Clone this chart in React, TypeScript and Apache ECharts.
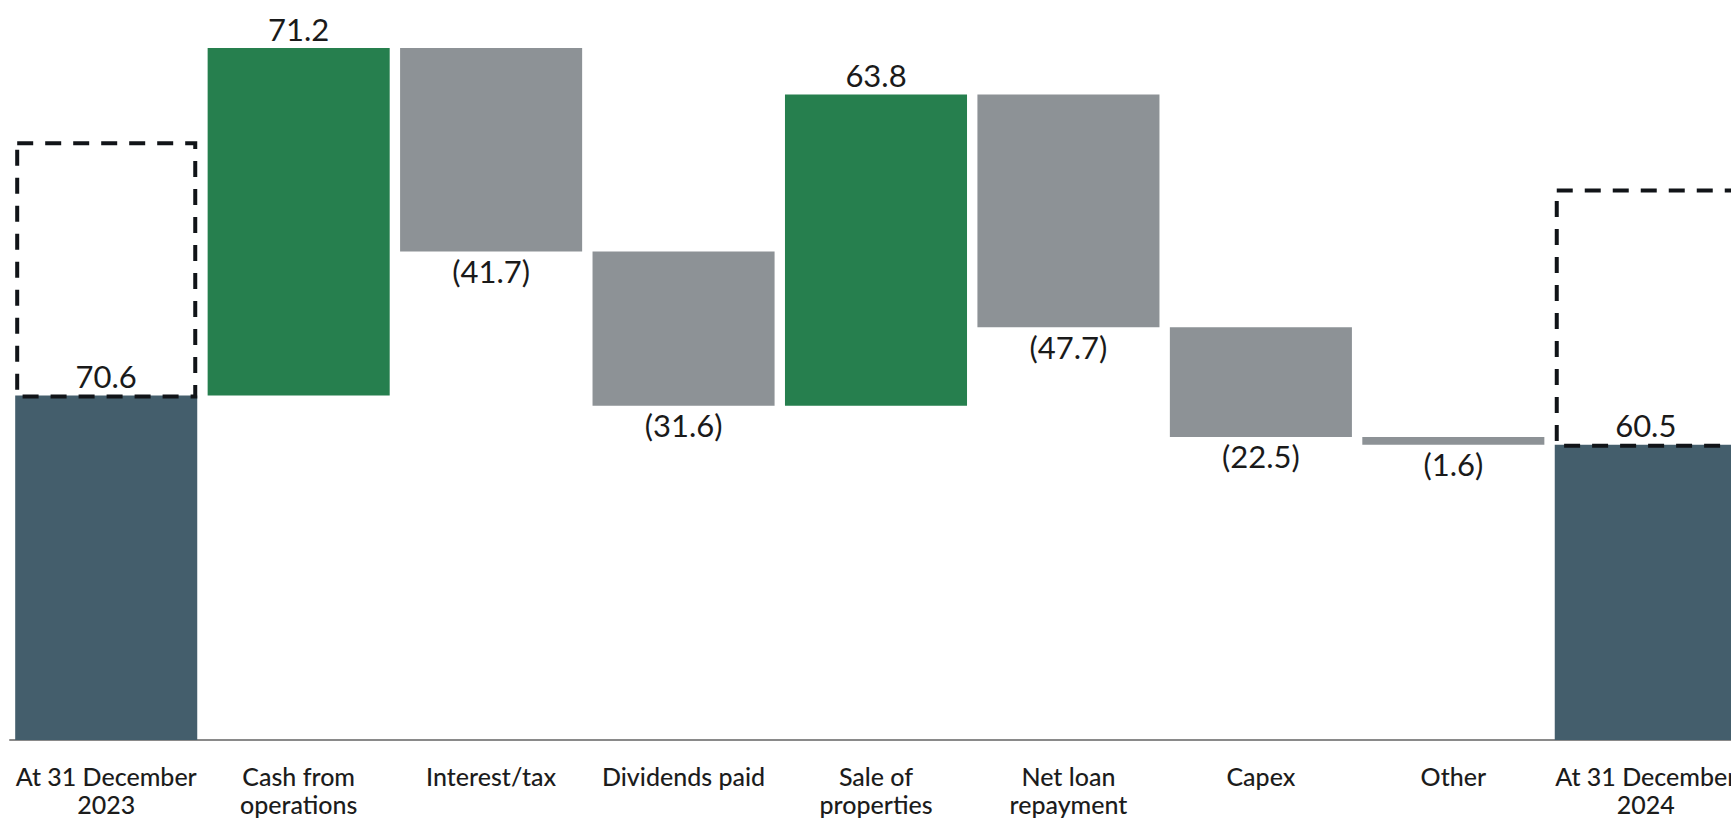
import React, { useEffect, useRef } from 'react';
import * as echarts from 'echarts';

const categories = [
  'At 31 December\n2023',
  'Cash from\noperations',
  'Interest/tax',
  'Dividends paid',
  'Sale of\nproperties',
  'Net loan\nrepayment',
  'Capex',
  'Other',
  'At 31 December\n2024',
];
const kinds = ['total', 'up', 'down', 'down', 'up', 'down', 'down', 'down', 'total'];
const amounts = [70.6, 71.2, 41.7, 31.6, 63.8, 47.7, 22.5, 1.6, 60.5];
// dashed outline boxes above the opening / closing bars: [category index, bottom, top]
const dashedBoxes = [
  [0, 70.6, 122.3],
  [8, 60.5, 112.6],
];

const COLORS: Record<string, string> = {
  total: '#445e6c',
  up: '#267f4e',
  down: '#8d9296',
};

const CHART_W = 1760;

export default function App() {
  const ref = useRef<HTMLDivElement>(null);

  useEffect(() => {
    if (!ref.current) return;
    const chart = echarts.init(ref.current, undefined, { renderer: 'svg' });

    let running = 0;
    const bases: number[] = [];
    kinds.forEach((k, i) => {
      const a = amounts[i];
      if (k === 'total') {
        bases.push(0);
        running = a;
      } else if (k === 'up') {
        bases.push(running);
        running += a;
      } else {
        running -= a;
        bases.push(running);
      }
    });

    const visible = amounts.map((a, i) => {
      const k = kinds[i];
      const down = k === 'down';
      return {
        value: a,
        itemStyle: { color: COLORS[k] },
        label: {
          position: down ? 'bottom' : 'top',
          distance: 4,
          formatter: down ? `(${a.toFixed(1)})` : a.toFixed(1),
        },
      };
    });

    const LW = 4;
    chart.setOption({
      animation: false,
      grid: { left: 10, top: 8, right: CHART_W - 10 - 1732, height: 738, containLabel: false },
      xAxis: {
        type: 'category',
        data: categories,
        axisLine: { show: true, lineStyle: { color: '#8a8a8a', width: 2 } },
        axisTick: { show: false },
        axisLabel: {
          interval: 0,
          margin: 22,
          fontFamily: 'Lato',
          fontSize: 25,
          fontWeight: 500,
          lineHeight: 28,
          color: '#1c1c1c',
        },
      },
      yAxis: {
        type: 'value',
        min: 0,
        max: 150,
        show: false,
        splitLine: { show: false },
      },
      series: [
        {
          type: 'bar',
          stack: 'w',
          silent: true,
          data: bases,
          itemStyle: { color: 'transparent' },
          barCategoryGap: '5.4%',
        },
        {
          type: 'bar',
          stack: 'w',
          data: visible,
          barCategoryGap: '5.4%',
          label: {
            show: true,
            fontFamily: 'Lato',
            fontSize: 31,
            fontWeight: 400,
            color: '#1a1a1a',
          },
        },
        {
          type: 'custom',
          data: dashedBoxes,
          encode: { x: 0, y: [1, 2] },
          z: 5,
          renderItem: (params: any, api: any) => {
            const idx = api.value(0);
            const low = api.coord([idx, api.value(1)]);
            const high = api.coord([idx, api.value(2)]);
            const w = api.size([1, 0])[0] * 0.946;
            return {
              type: 'rect',
              shape: {
                x: low[0] - w / 2 + LW / 2,
                y: high[1],
                width: w - LW,
                height: low[1] - high[1] + 1,
              },
              style: {
                fill: 'none',
                stroke: '#111418',
                lineWidth: LW,
                lineDash: [16, 12],
              },
            };
          },
        },
      ],
    });

    return () => chart.dispose();
  }, []);

  return (
    <div
      style={{
        position: 'absolute',
        left: 0,
        top: 0,
        width: 1731,
        height: 818,
        overflow: 'hidden',
        background: '#fff',
      }}
    >
      <div ref={ref} style={{ width: CHART_W, height: 818 }} />
    </div>
  );
}
